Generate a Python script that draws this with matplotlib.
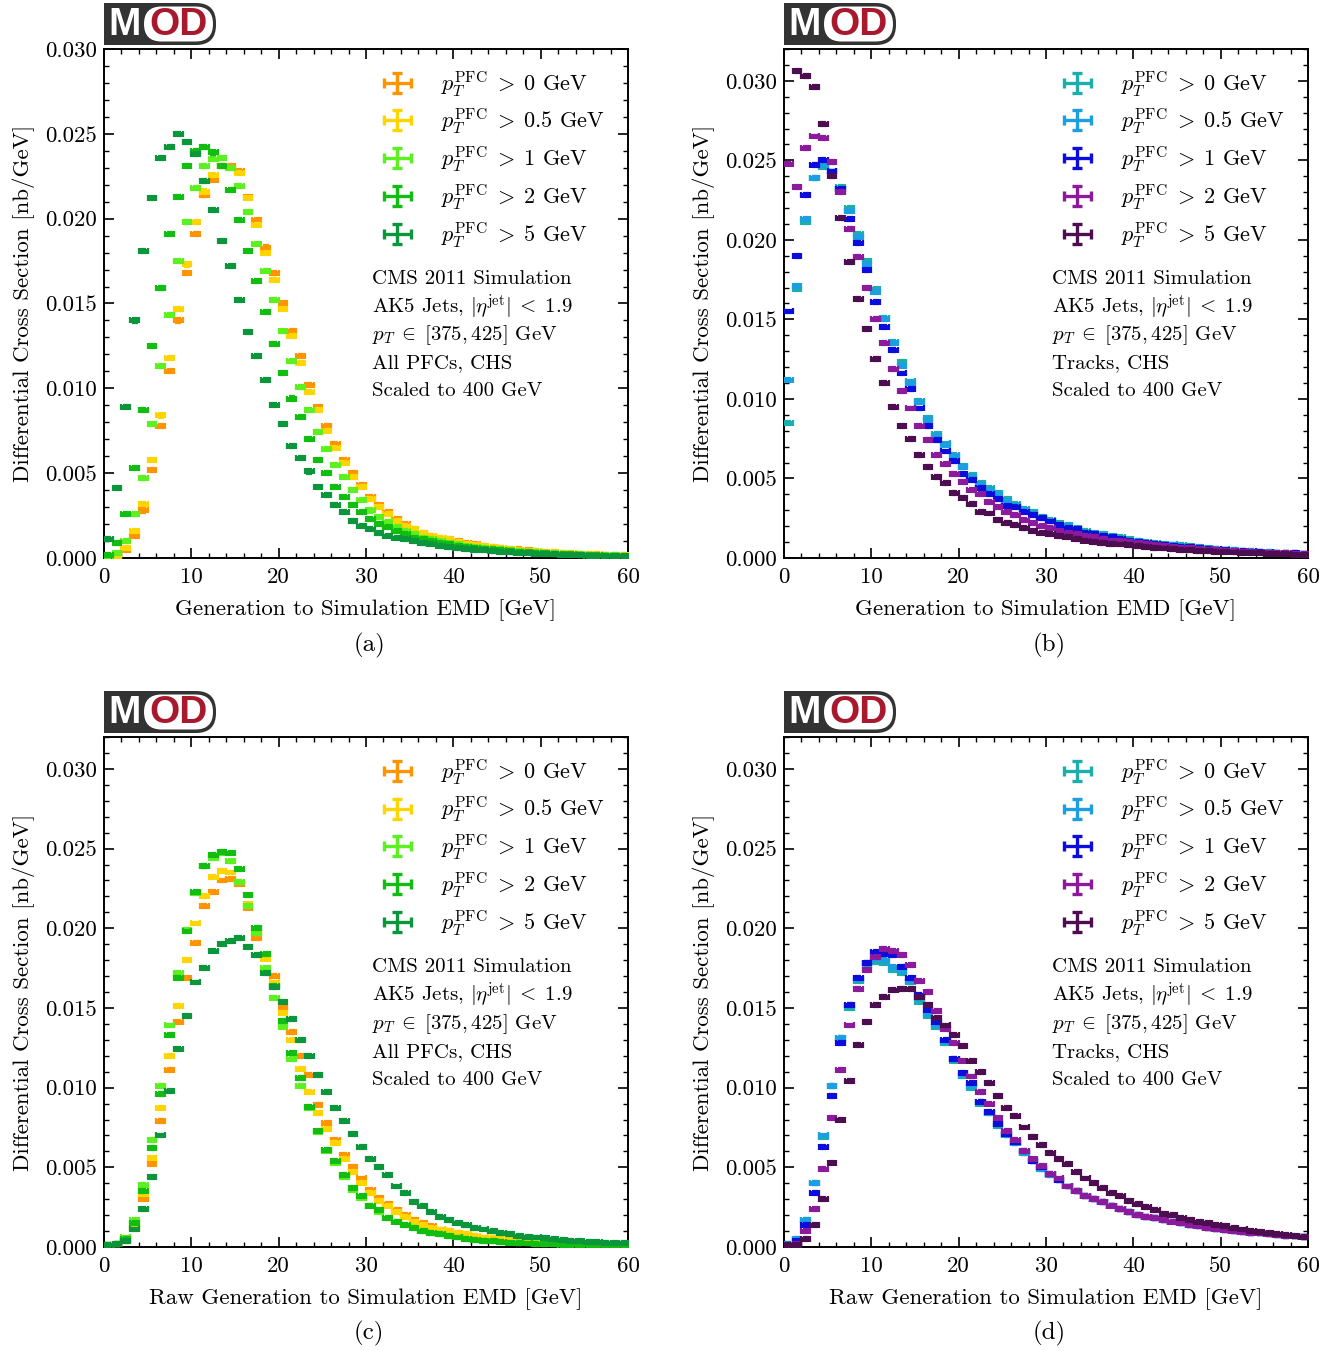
import numpy as np
import matplotlib
matplotlib.use("Agg")
import matplotlib.pyplot as plt
from matplotlib.container import ErrorbarContainer
from matplotlib.legend_handler import HandlerErrorbar
from matplotlib.patches import FancyBboxPatch, Rectangle
from matplotlib.ticker import MultipleLocator, FormatStrFormatter

plt.rcParams['font.family'] = ['cmr10', 'DejaVu Serif']
plt.rcParams['mathtext.fontset'] = 'cm'
plt.rcParams['axes.unicode_minus'] = False

# ---------------- data ----------------
emd_bin_centers = np.arange(0.5, 60.0, 1.0)   # 1 GeV bins from 0 to 60
emd_half_width = 0.5

cut_labels = [r'$p_T^{\mathrm{PFC}}\;>\;0$ GeV', r'$p_T^{\mathrm{PFC}}\;>\;0.5$ GeV',
              r'$p_T^{\mathrm{PFC}}\;>\;1$ GeV', r'$p_T^{\mathrm{PFC}}\;>\;2$ GeV',
              r'$p_T^{\mathrm{PFC}}\;>\;5$ GeV']

# (a) All PFCs, Generation to Simulation EMD
a_pt0 = [0.0000, 0.0001, 0.0005, 0.0013, 0.0028, 0.0052, 0.0078, 0.0110, 0.0140, 0.0168,
         0.0191, 0.0214, 0.0223, 0.0231, 0.0231, 0.0228, 0.0213, 0.0199, 0.0183, 0.0168,
         0.0150, 0.0134, 0.0119, 0.0102, 0.0089, 0.0078, 0.0067, 0.0058, 0.0050, 0.0043,
         0.0036, 0.0031, 0.0027, 0.0023, 0.0020, 0.0017, 0.0015, 0.0013, 0.0012, 0.0011,
         0.0010, 0.0009, 0.0008, 0.0007, 0.00065, 0.0006, 0.00055, 0.0005, 0.00045, 0.0004,
         0.00037, 0.00034, 0.00031, 0.00028, 0.00026, 0.00024, 0.00022, 0.0002, 0.00018, 0.00017]
a_pt05 = [0.0000, 0.0001, 0.0006, 0.0016, 0.0032, 0.0058, 0.0084, 0.0118, 0.0147, 0.0173,
          0.0198, 0.0216, 0.0226, 0.0231, 0.0230, 0.0227, 0.0212, 0.0196, 0.0180, 0.0164,
          0.0147, 0.0131, 0.0115, 0.0098, 0.0087, 0.0075, 0.0065, 0.0056, 0.0048, 0.0042,
          0.0035, 0.0030, 0.0026, 0.0022, 0.0019, 0.0017, 0.0015, 0.0013, 0.0012, 0.0011,
          0.00095, 0.00085, 0.00077, 0.0007, 0.00063, 0.00057, 0.00052, 0.00047, 0.00043, 0.00039,
          0.00036, 0.00033, 0.0003, 0.00027, 0.00025, 0.00023, 0.00021, 0.00019, 0.00017, 0.00016]
a_pt1 = [0.0001, 0.0003, 0.0010, 0.0026, 0.0047, 0.0079, 0.0113, 0.0143, 0.0175, 0.0198,
         0.0218, 0.0231, 0.0235, 0.0236, 0.0230, 0.0219, 0.0204, 0.0185, 0.0169, 0.0152,
         0.0134, 0.0116, 0.0101, 0.0087, 0.0074, 0.0064, 0.0055, 0.0048, 0.0040, 0.0034,
         0.0028, 0.0024, 0.0021, 0.0018, 0.0016, 0.0014, 0.0012, 0.0011, 0.0010, 0.0009,
         0.0008, 0.00072, 0.00065, 0.0006, 0.00054, 0.0005, 0.00045, 0.0004, 0.00037, 0.00034,
         0.00031, 0.00028, 0.00026, 0.00024, 0.00022, 0.0002, 0.00018, 0.00017, 0.00015, 0.00014]
a_pt2 = [0.0002, 0.0009, 0.0026, 0.0053, 0.0087, 0.0125, 0.0159, 0.0191, 0.0213, 0.0231,
         0.0240, 0.0242, 0.0239, 0.0231, 0.0217, 0.0199, 0.0181, 0.0163, 0.0145, 0.0126,
         0.0109, 0.0094, 0.0083, 0.0070, 0.0058, 0.0050, 0.0042, 0.0036, 0.0031, 0.0027,
         0.0023, 0.0020, 0.0018, 0.0016, 0.0014, 0.0012, 0.0011, 0.0010, 0.0009, 0.0008,
         0.0007, 0.00065, 0.0006, 0.00055, 0.0005, 0.00045, 0.0004, 0.00037, 0.00034, 0.0003,
         0.00028, 0.00025, 0.00023, 0.00021, 0.00019, 0.00017, 0.00016, 0.00014, 0.00013, 0.00012]
a_pt5 = [0.0011, 0.0041, 0.0089, 0.0140, 0.0181, 0.0212, 0.0236, 0.0242, 0.0250, 0.0245,
         0.0238, 0.0222, 0.0205, 0.0187, 0.0172, 0.0152, 0.0133, 0.0119, 0.0105, 0.0090,
         0.0079, 0.0066, 0.0059, 0.0051, 0.0042, 0.0037, 0.0031, 0.0027, 0.0022, 0.0019,
         0.0017, 0.0015, 0.0013, 0.0012, 0.0011, 0.0010, 0.0009, 0.0008, 0.0007, 0.00065,
         0.0006, 0.00055, 0.0005, 0.00045, 0.0004, 0.00037, 0.00034, 0.0003, 0.00028, 0.00025,
         0.00023, 0.00021, 0.00019, 0.00017, 0.00016, 0.00014, 0.00013, 0.00012, 0.00011, 0.0001]

# (b) Tracks, Generation to Simulation EMD
b_pt0 = [0.0085, 0.0169, 0.0211, 0.0239, 0.0246, 0.0243, 0.0233, 0.0220, 0.0204, 0.0187,
         0.0169, 0.0151, 0.0136, 0.0123, 0.0111, 0.0099, 0.0088, 0.0078, 0.0072, 0.0065,
         0.0058, 0.0052, 0.0047, 0.0044, 0.0041, 0.0037, 0.0034, 0.0031, 0.0029, 0.0026,
         0.0024, 0.0022, 0.0021, 0.0019, 0.0017, 0.0016, 0.0015, 0.0014, 0.0013, 0.0012,
         0.0011, 0.0010, 0.00095, 0.0009, 0.00085, 0.0008, 0.00074, 0.00068, 0.00063, 0.00058,
         0.00054, 0.0005, 0.00046, 0.00043, 0.0004, 0.00037, 0.00034, 0.00032, 0.0003, 0.00028]
b_pt05 = [0.0112, 0.0171, 0.0213, 0.0239, 0.0247, 0.0243, 0.0232, 0.0218, 0.0202, 0.0185,
          0.0167, 0.0150, 0.0135, 0.0121, 0.0110, 0.0098, 0.0087, 0.0077, 0.0071, 0.0064,
          0.0057, 0.0051, 0.0046, 0.0043, 0.0040, 0.0036, 0.0033, 0.0030, 0.0028, 0.0025,
          0.0023, 0.0021, 0.0020, 0.0018, 0.0016, 0.0015, 0.0014, 0.0013, 0.0012, 0.0011,
          0.00105, 0.00097, 0.0009, 0.00085, 0.0008, 0.00075, 0.0007, 0.00065, 0.0006, 0.00056,
          0.00052, 0.00048, 0.00045, 0.00042, 0.00039, 0.00036, 0.00033, 0.00031, 0.00029, 0.00027]
b_pt1 = [0.0155, 0.0190, 0.0228, 0.0247, 0.0250, 0.0243, 0.0232, 0.0213, 0.0198, 0.0181,
         0.0161, 0.0145, 0.0131, 0.0116, 0.0106, 0.0094, 0.0083, 0.0074, 0.0067, 0.0061,
         0.0053, 0.0049, 0.0044, 0.0040, 0.0037, 0.0033, 0.0032, 0.0029, 0.0027, 0.0025,
         0.0023, 0.0021, 0.0019, 0.0018, 0.0016, 0.0015, 0.0014, 0.0013, 0.0012, 0.0011,
         0.0010, 0.00095, 0.00088, 0.00082, 0.00077, 0.00072, 0.00067, 0.00062, 0.00058, 0.00054,
         0.0005, 0.00047, 0.00044, 0.00041, 0.00038, 0.00035, 0.00033, 0.00031, 0.00029, 0.00027]
b_pt2 = [0.0248, 0.0233, 0.0258, 0.0265, 0.0264, 0.0249, 0.0230, 0.0207, 0.0189, 0.0170,
         0.0150, 0.0135, 0.0119, 0.0105, 0.0094, 0.0083, 0.0074, 0.0065, 0.0059, 0.0053,
         0.0048, 0.0043, 0.0040, 0.0035, 0.0032, 0.0029, 0.0027, 0.0024, 0.0022, 0.0020,
         0.0019, 0.0017, 0.0016, 0.0015, 0.0014, 0.0013, 0.0012, 0.0011, 0.00105, 0.0010,
         0.00092, 0.00086, 0.0008, 0.00075, 0.0007, 0.00066, 0.00062, 0.00058, 0.00054, 0.0005,
         0.00047, 0.00044, 0.00041, 0.00038, 0.00035, 0.00033, 0.00031, 0.00029, 0.00027, 0.00025]
b_pt5 = [0.0335, 0.0306, 0.0303, 0.0296, 0.0273, 0.0240, 0.0214, 0.0186, 0.0163, 0.0144,
         0.0125, 0.0110, 0.0095, 0.0083, 0.0075, 0.0065, 0.0057, 0.0051, 0.0047, 0.0041,
         0.0038, 0.0034, 0.0029, 0.0028, 0.0024, 0.0022, 0.0021, 0.0019, 0.0017, 0.0016,
         0.0015, 0.0014, 0.0013, 0.0012, 0.0011, 0.0010, 0.00095, 0.0009, 0.00085, 0.0008,
         0.00075, 0.0007, 0.00065, 0.0006, 0.00056, 0.00052, 0.00049, 0.00046, 0.00043, 0.0004,
         0.00037, 0.00035, 0.00033, 0.00031, 0.00029, 0.00027, 0.00025, 0.00023, 0.00022, 0.0002]

# (c) All PFCs, Raw Generation to Simulation EMD
c_pt0 = [0.0001, 0.0002, 0.0004, 0.0012, 0.0030, 0.0052, 0.0079, 0.0111, 0.0141, 0.0169,
         0.0191, 0.0214, 0.0223, 0.0230, 0.0231, 0.0228, 0.0213, 0.0194, 0.0182, 0.0170,
         0.0150, 0.0135, 0.0120, 0.0108, 0.0089, 0.0078, 0.0067, 0.0058, 0.0050, 0.0043,
         0.0036, 0.0031, 0.0027, 0.0023, 0.0020, 0.0017, 0.0015, 0.0013, 0.0011, 0.0010,
         0.0009, 0.0008, 0.0007, 0.0006, 0.00055, 0.0005, 0.00045, 0.0004, 0.00035, 0.00032,
         0.00029, 0.00026, 0.00023, 0.00021, 0.00019, 0.00017, 0.00015, 0.00014, 0.00013, 0.00012]
c_pt05 = [0.0001, 0.0002, 0.0005, 0.0013, 0.0033, 0.0056, 0.0087, 0.0120, 0.0151, 0.0180,
          0.0203, 0.0220, 0.0232, 0.0236, 0.0235, 0.0229, 0.0215, 0.0197, 0.0181, 0.0166,
          0.0147, 0.0130, 0.0112, 0.0097, 0.0084, 0.0074, 0.0065, 0.0055, 0.0047, 0.0040,
          0.0034, 0.0029, 0.0026, 0.0022, 0.0019, 0.0016, 0.0014, 0.0012, 0.0011, 0.0010,
          0.0009, 0.0008, 0.0007, 0.0006, 0.00055, 0.0005, 0.00045, 0.0004, 0.00035, 0.00031,
          0.00028, 0.00025, 0.00022, 0.0002, 0.00018, 0.00016, 0.00015, 0.00014, 0.00013, 0.00012]
c_pt1 = [0.0001, 0.0002, 0.0006, 0.0017, 0.0039, 0.0067, 0.0101, 0.0139, 0.0172, 0.0199,
         0.0222, 0.0239, 0.0244, 0.0247, 0.0242, 0.0229, 0.0214, 0.0197, 0.0175, 0.0156,
         0.0138, 0.0118, 0.0101, 0.0087, 0.0072, 0.0060, 0.0053, 0.0044, 0.0036, 0.0031,
         0.0026, 0.0022, 0.0018, 0.0016, 0.0014, 0.0012, 0.0010, 0.0009, 0.0008, 0.0007,
         0.0006, 0.00052, 0.00046, 0.0004, 0.00036, 0.00032, 0.00028, 0.00025, 0.00022, 0.0002,
         0.00018, 0.00016, 0.00014, 0.00013, 0.00012, 0.00011, 0.0001, 0.00009, 0.00008, 0.00008]
c_pt2 = [0.0001, 0.0002, 0.0005, 0.0015, 0.0035, 0.0062, 0.0096, 0.0133, 0.0169, 0.0198,
         0.0223, 0.0239, 0.0246, 0.0248, 0.0247, 0.0237, 0.0221, 0.0200, 0.0184, 0.0164,
         0.0142, 0.0122, 0.0106, 0.0088, 0.0073, 0.0061, 0.0054, 0.0045, 0.0037, 0.0032,
         0.0026, 0.0023, 0.0018, 0.0016, 0.0014, 0.0012, 0.0010, 0.0009, 0.0008, 0.0007,
         0.0006, 0.00052, 0.00046, 0.0004, 0.00036, 0.00032, 0.00028, 0.00025, 0.00022, 0.0002,
         0.00018, 0.00016, 0.00014, 0.00013, 0.00012, 0.00011, 0.0001, 0.00009, 0.00008, 0.00008]
c_pt5 = [0.0001, 0.0002, 0.0004, 0.0011, 0.0024, 0.0044, 0.0070, 0.0098, 0.0124, 0.0145,
         0.0166, 0.0175, 0.0186, 0.0190, 0.0192, 0.0194, 0.0188, 0.0183, 0.0172, 0.0163,
         0.0154, 0.0143, 0.0130, 0.0120, 0.0108, 0.0097, 0.0087, 0.0079, 0.0071, 0.0063,
         0.0055, 0.0050, 0.0045, 0.0038, 0.0034, 0.0028, 0.0026, 0.0022, 0.0019, 0.0017,
         0.0015, 0.0014, 0.0012, 0.0011, 0.0010, 0.0009, 0.0008, 0.0007, 0.00065, 0.0006,
         0.00055, 0.0005, 0.00045, 0.0004, 0.00037, 0.00034, 0.00031, 0.00028, 0.00025, 0.00023]

# (d) Tracks, Raw Generation to Simulation EMD
d_pt0 = [0.0002, 0.0005, 0.0017, 0.0040, 0.0069, 0.0101, 0.0131, 0.0150, 0.0167, 0.0177,
         0.0179, 0.0178, 0.0174, 0.0172, 0.0166, 0.0154, 0.0145, 0.0138, 0.0128, 0.0117,
         0.0107, 0.0100, 0.0090, 0.0084, 0.0076, 0.0070, 0.0065, 0.0059, 0.0054, 0.0049,
         0.0045, 0.0042, 0.0038, 0.0035, 0.0032, 0.0030, 0.0028, 0.0026, 0.0024, 0.0022,
         0.0020, 0.0019, 0.0018, 0.0017, 0.0016, 0.0015, 0.0014, 0.0013, 0.0012, 0.0011,
         0.00105, 0.0010, 0.00095, 0.0009, 0.00085, 0.0008, 0.00075, 0.0007, 0.00066, 0.00062]
d_pt05 = [0.0002, 0.0005, 0.0017, 0.0040, 0.0070, 0.0101, 0.0131, 0.0152, 0.0168, 0.0178,
          0.0181, 0.0180, 0.0176, 0.0173, 0.0167, 0.0156, 0.0146, 0.0139, 0.0129, 0.0118,
          0.0108, 0.0101, 0.0091, 0.0084, 0.0077, 0.0070, 0.0065, 0.0059, 0.0054, 0.0049,
          0.0045, 0.0042, 0.0038, 0.0035, 0.0032, 0.0030, 0.0028, 0.0026, 0.0024, 0.0022,
          0.0020, 0.0019, 0.0018, 0.0017, 0.0016, 0.0015, 0.0014, 0.0013, 0.0012, 0.0011,
          0.00105, 0.0010, 0.00095, 0.0009, 0.00085, 0.0008, 0.00075, 0.0007, 0.00066, 0.00062]
d_pt1 = [0.0001, 0.0004, 0.0014, 0.0034, 0.0063, 0.0095, 0.0128, 0.0152, 0.0169, 0.0178,
         0.0185, 0.0184, 0.0183, 0.0176, 0.0169, 0.0158, 0.0149, 0.0141, 0.0130, 0.0118,
         0.0109, 0.0103, 0.0091, 0.0085, 0.0077, 0.0071, 0.0066, 0.0060, 0.0054, 0.0050,
         0.0046, 0.0042, 0.0038, 0.0035, 0.0032, 0.0030, 0.0028, 0.0026, 0.0024, 0.0022,
         0.0020, 0.0019, 0.0018, 0.0017, 0.0016, 0.0015, 0.0014, 0.0013, 0.0012, 0.0011,
         0.00105, 0.0010, 0.00095, 0.0009, 0.00085, 0.0008, 0.00075, 0.0007, 0.00066, 0.00062]
d_pt2 = [0.0001, 0.0002, 0.0010, 0.0024, 0.0049, 0.0081, 0.0111, 0.0139, 0.0162, 0.0174,
         0.0182, 0.0187, 0.0186, 0.0183, 0.0177, 0.0167, 0.0160, 0.0148, 0.0137, 0.0128,
         0.0117, 0.0107, 0.0097, 0.0090, 0.0081, 0.0073, 0.0067, 0.0060, 0.0055, 0.0051,
         0.0046, 0.0043, 0.0038, 0.0035, 0.0032, 0.0030, 0.0028, 0.0026, 0.0024, 0.0022,
         0.0020, 0.0019, 0.0018, 0.0017, 0.0016, 0.0015, 0.0014, 0.0013, 0.0012, 0.0011,
         0.00105, 0.0010, 0.00095, 0.0009, 0.00085, 0.0008, 0.00075, 0.0007, 0.00066, 0.00062]
d_pt5 = [0.0001, 0.0001, 0.0005, 0.0014, 0.0030, 0.0053, 0.0080, 0.0104, 0.0127, 0.0141,
         0.0152, 0.0157, 0.0161, 0.0162, 0.0162, 0.0157, 0.0152, 0.0144, 0.0139, 0.0133,
         0.0126, 0.0117, 0.0110, 0.0103, 0.0095, 0.0087, 0.0082, 0.0075, 0.0069, 0.0064,
         0.0059, 0.0055, 0.0052, 0.0047, 0.0043, 0.0040, 0.0037, 0.0034, 0.0032, 0.0029,
         0.0027, 0.0025, 0.0023, 0.0021, 0.0020, 0.0018, 0.0017, 0.0016, 0.0015, 0.0014,
         0.0013, 0.0012, 0.0011, 0.0010, 0.00095, 0.0009, 0.00082, 0.00076, 0.0007, 0.00065]

pfc_colors = ['#ff9400', '#ffd500', '#5cf020', '#12bd12', '#0b963c']
trk_colors = ['#1cadad', '#1c9fe0', '#0c0cdc', '#8c1a9c', '#4c0e50']

y_error = 0.00012

# ---------------- figure ----------------
W, H = 1342, 1351
fig = plt.figure(figsize=(W / 100, H / 100), dpi=100)


def px_rect(x0, y0, x1, y1):
    return [x0 / W, 1 - y1 / H, (x1 - x0) / W, (y1 - y0) / H]


def draw_logo(x0, y0):
    lax = fig.add_axes(px_rect(x0, y0, x0 + 112, y0 + 42))
    lax.set_xlim(0, 112)
    lax.set_ylim(0, 42)
    lax.axis('off')
    lax.add_patch(Rectangle((0, 0), 50, 42, facecolor='#333333', edgecolor='none'))
    lax.add_patch(FancyBboxPatch((0, 0), 112, 42, boxstyle='round,pad=0,rounding_size=20',
                                 facecolor='#333333', edgecolor='none'))
    lax.add_patch(FancyBboxPatch((40, 3.5), 69, 35, boxstyle='round,pad=0,rounding_size=17.5',
                                 facecolor='white', edgecolor='none'))
    lax.text(21, 20, 'M', color='white', fontsize=28, fontweight='bold',
             family='Liberation Sans', ha='center', va='center')
    lax.text(75, 20, 'OD', color='#a8192e', fontsize=28, fontweight='bold',
             family='Liberation Sans', ha='center', va='center')


def draw_panel(rect, series, colors, ymax, xlabel, source_text, logo_xy, letter, letter_xy):
    ax = fig.add_axes(rect)
    for vals, col in zip(series, colors):
        ax.errorbar(emd_bin_centers, vals, xerr=emd_half_width, yerr=y_error, fmt='none',
                    ecolor=col, elinewidth=3.6, capsize=2.0, capthick=1.6, zorder=3)
    proxies = []
    for col in colors:
        p = ax.errorbar([np.nan], [np.nan], xerr=[1.0], yerr=[1.0], fmt='none', ecolor=col,
                        elinewidth=2.4, capsize=3.5, capthick=2.4)
        proxies.append(p)
    ax.set_xlim(0, 60)
    ax.set_ylim(0, ymax)
    ax.xaxis.set_major_locator(MultipleLocator(10))
    ax.xaxis.set_minor_locator(MultipleLocator(2))
    ax.yaxis.set_major_locator(MultipleLocator(0.005))
    ax.yaxis.set_minor_locator(MultipleLocator(0.001))
    ax.yaxis.set_major_formatter(FormatStrFormatter('%.3f'))
    ax.xaxis.set_major_formatter(FormatStrFormatter('%d'))
    ax.tick_params(which='both', direction='in', top=True, right=True, labelsize=16.5)
    ax.tick_params(axis='x', which='both', pad=7)
    ax.tick_params(axis='y', which='both', pad=5)
    ax.tick_params(which='major', length=7, width=1.2)
    ax.tick_params(which='minor', length=3.5, width=1.0)
    for sp in ax.spines.values():
        sp.set_linewidth(1.4)
    ax.set_xlabel(xlabel, fontsize=16.5, labelpad=8.5)
    ax.set_ylabel('Differential Cross Section [nb/GeV]', fontsize=16.5, labelpad=7)
    ax.legend(proxies, cut_labels, loc='upper left', bbox_to_anchor=(0.532, 0.961),
              frameon=False, fontsize=16, handlelength=1.3, handletextpad=1.3,
              labelspacing=0.37, borderpad=0, borderaxespad=0,
              handler_map={ErrorbarContainer: HandlerErrorbar(xerr_size=0.6, yerr_size=0.45)})
    lines = ['CMS 2011 Simulation', r'AK5 Jets, $|\eta^{\mathrm{jet}}|\;<\;1.9$',
             r'$p_T\;\in\;[375, 425]$ GeV', source_text, 'Scaled to 400 GeV']
    for i, ln in enumerate(lines):
        ax.text(0.511, 0.548 - i * 0.055, ln, transform=ax.transAxes, fontsize=15,
                ha='left', va='center')
    draw_logo(*logo_xy)
    fig.text(letter_xy[0] / W, 1 - letter_xy[1] / H, letter, fontsize=18,
             ha='center', va='center')
    return ax


draw_panel(px_rect(104, 49, 628, 558), [a_pt0, a_pt05, a_pt1, a_pt2, a_pt5], pfc_colors,
           0.030, 'Generation to Simulation EMD [GeV]', 'All PFCs, CHS',
           (104, 3), '(a)', (369, 645))
draw_panel(px_rect(784, 49, 1308, 558), [b_pt0, b_pt05, b_pt1, b_pt2, b_pt5], trk_colors,
           0.032, 'Generation to Simulation EMD [GeV]', 'Tracks, CHS',
           (784, 3), '(b)', (1049, 645))
draw_panel(px_rect(104, 737, 628, 1247), [c_pt0, c_pt05, c_pt1, c_pt2, c_pt5], pfc_colors,
           0.032, 'Raw Generation to Simulation EMD [GeV]', 'All PFCs, CHS',
           (104, 691), '(c)', (369, 1333))
draw_panel(px_rect(784, 737, 1308, 1247), [d_pt0, d_pt05, d_pt1, d_pt2, d_pt5], trk_colors,
           0.032, 'Raw Generation to Simulation EMD [GeV]', 'Tracks, CHS',
           (784, 691), '(d)', (1049, 1333))

fig.savefig('out.png', dpi=100)
